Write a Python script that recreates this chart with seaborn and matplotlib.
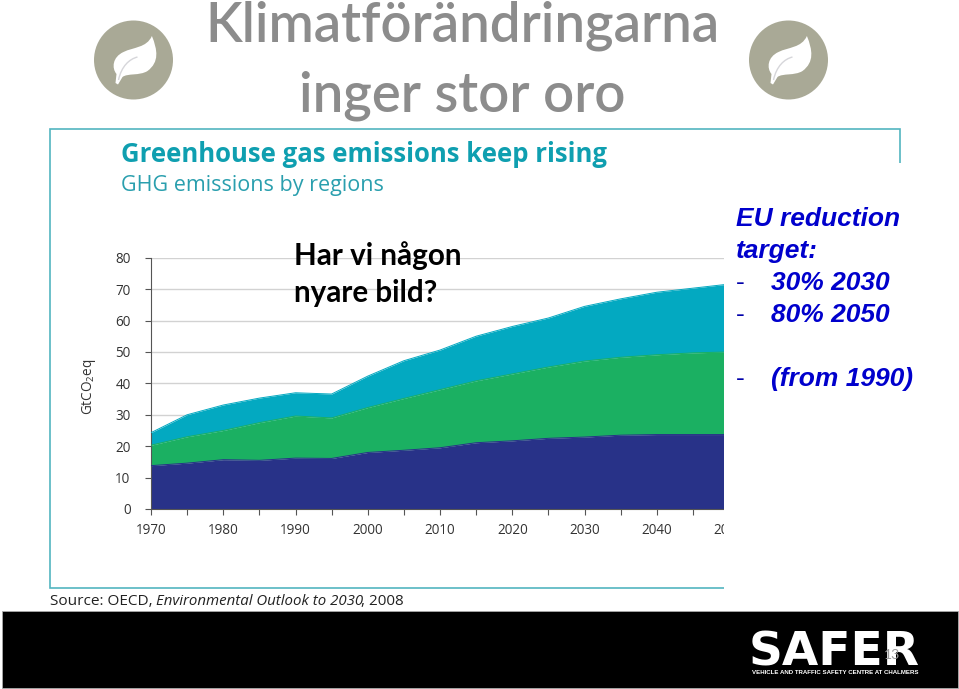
import numpy as np
import pandas as pd
import matplotlib
matplotlib.use("Agg")
import matplotlib.pyplot as plt
from matplotlib.patches import Rectangle, Circle, PathPatch
from matplotlib.path import Path
import seaborn as sns

# Data: top edge of each stacked band (GtCO2eq)
years = [1970, 1975, 1980, 1985, 1990, 1995, 2000, 2005, 2010, 2015,
         2020, 2025, 2030, 2035, 2040, 2045, 2050]
band_low = [13.8, 14.6, 15.7, 15.5, 16.2, 16.1, 18.0, 18.7, 19.5, 21.1,
            21.7, 22.5, 22.9, 23.5, 23.7, 23.7, 23.7]
band_mid = [20.3, 23.0, 25.0, 27.5, 29.6, 29.0, 32.3, 35.2, 38.0, 40.8,
            43.0, 45.2, 47.1, 48.3, 49.1, 49.7, 50.0]
band_top = [24.3, 30.0, 33.1, 35.3, 37.0, 36.6, 42.3, 47.2, 50.6, 55.0,
            58.1, 60.8, 64.5, 66.9, 69.0, 70.3, 71.6]
y_ticks = [0, 10, 20, 30, 40, 50, 60, 70, 80]
x_labels = [1970, 1980, 1990, 2000, 2010, 2020, 2030, 2040, 2050]
x_minor = [1975, 1985, 1995, 2005, 2015, 2025, 2035, 2045]

NAVY, GREEN, TEAL = "#283288", "#1bb062", "#03a9c1"
FRAME = "#53b5c0"
W, H = 959, 689
sns.set_theme(style="white")
plt.rcParams["font.family"] = ["Open Sans", "DejaVu Sans"]
plt.rcParams["mathtext.default"] = "regular"
PX = 0.72

fig = plt.figure(figsize=(W / 100, H / 100), dpi=100, facecolor="white")


def overlay(z):
    a = fig.add_axes([0, 0, 1, 1], zorder=z)
    a.set_xlim(0, W)
    a.set_ylim(H, 0)
    a.axis("off")
    a.patch.set_alpha(0)
    return a


under = overlay(1)
under.add_patch(Rectangle((50, 129), 850, 458.7, fill=False, ec=FRAME, lw=1.2))

# Main chart axes
left, right, top, bottom = 151, 729, 257.7, 509
ax = fig.add_axes([left / W, 1 - bottom / H, (right - left) / W, (bottom - top) / H], zorder=2)
ax.patch.set_alpha(0)
df = pd.DataFrame({"year": years, "low": band_low, "mid": band_mid, "top": band_top})
long = df.melt("year", var_name="band", value_name="value")
ax.fill_between(years, band_mid, band_top, color=TEAL, lw=0, zorder=2.5)
ax.fill_between(years, band_low, band_mid, color=GREEN, lw=0, zorder=2.5)
ax.fill_between(years, 0, band_low, color=NAVY, lw=0, zorder=2.5)
sns.lineplot(data=long, x="year", y="value", hue="band",
             palette={"low": NAVY, "mid": GREEN, "top": TEAL},
             legend=False, lw=0.7, ax=ax, zorder=3)
ax.set_xlim(1970, 2050)
ax.set_ylim(0, 80)
ax.set_xlabel("")
ax.set_ylabel("")
ax.set_xticks(x_labels)
ax.set_xticks(x_minor, minor=True)
ax.set_yticks(y_ticks)
ax.tick_params(axis="both", which="both", direction="out", length=6 * PX, width=0.8,
               color="#555555", labelcolor="#333333", labelsize=13.5 * PX,
               left=True, bottom=True)
ax.tick_params(axis="y", pad=14.5 * PX)
ax.tick_params(axis="x", pad=8 * PX)
ax.grid(True, axis="y", color="#d2d2d2", lw=1.0, zorder=0)
ax.grid(False, axis="x")
ax.set_axisbelow(True)
sns.despine(ax=ax, top=True, right=True)
for s in ("left", "bottom"):
    ax.spines[s].set_color("#555555")
    ax.spines[s].set_linewidth(0.8)

# Everything above the chart
top_layer = overlay(3)
top_layer.add_patch(Rectangle((724.4, 163), 240, 436, fc="white", ec="none"))


def leaf(cx, cy):
    top_layer.add_patch(Circle((cx, cy), 39.5, fc="#a9a996", ec="none"))
    pts = [(18.4, -24), (24, -10), (26, 2), (14, 11), (6, 16), (-6, 13), (-11, 17),
           (-15.5, 24.5), (-18, 23), (-17, 14),
           (-22, 8), (-21, -3), (-10, -8), (0, -13), (13, -12), (18.4, -24)]
    verts = [(cx + a, cy + b) for a, b in pts]
    codes = ([Path.MOVETO] + [Path.CURVE4] * 6 + [Path.LINETO] * 3 + [Path.CURVE4] * 6)
    top_layer.add_patch(PathPatch(Path(verts, codes), fc="white", ec="none"))
    vein = Path([(cx - 15, cy + 20), (cx - 12, cy + 6), (cx - 4, cy - 1), (cx + 4, cy - 3)],
                [Path.MOVETO, Path.CURVE4, Path.CURVE4, Path.CURVE4])
    top_layer.add_patch(PathPatch(vein, fc="none", ec="#d6d6da", lw=1.0))


leaf(133.5, 60)
leaf(788.5, 60)


def px_text(x, y, s, size, color="black", **kw):
    kw.setdefault("va", "center")
    kw.setdefault("ha", "left")
    return top_layer.text(x, y, s, fontsize=size * PX, color=color, **kw)


GREY = "#8c8c8c"
px_text(462, 26, "Klimatförändringarna", 54.5, GREY, ha="center", family="Lato", weight=600)
px_text(462, 96, "inger stor oro", 54.5, GREY, ha="center", family="Lato", weight=600)
px_text(121, 155, "Greenhouse gas emissions keep rising", 25.8, "#0f9fb0", weight="bold")
px_text(121, 186, "GHG emissions by regions", 21.5, "#2a9fae")
px_text(294, 256, "Har vi någon", 29.6, "black", family="Lato", weight="bold")
px_text(294, 293, "nyare bild?", 29.6, "black", family="Lato", weight="bold")
px_text(89, 387, "GtCO$_2$eq", 13.5, "#333333", rotation=90, ha="center")

BLUE = "#0000cc"
eu = dict(family="Liberation Sans", style="italic", weight="bold")
px_text(736, 219, "EU reduction", 26.4, BLUE, **eu)
px_text(736, 251, "target:", 26.4, BLUE, **eu)
for yy, s in [(283, "30% 2030"), (315, "80% 2050"), (379, "(from 1990)")]:
    px_text(736, yy, "-", 26.4, "#0000aa", family="Liberation Sans")
    px_text(771, yy, s, 26.4, BLUE, **eu)

px_text(50, 601.5, "Source: OECD,", 15.4, "#222222")
px_text(155.7, 601.5, "Environmental Outlook to 2030", 15, "#222222", style="italic")
px_text(361, 601.5, ", 2008", 15.2, "#222222")

# Black footer band
top_layer.add_patch(Rectangle((2, 611), 956, 77, fc="black", ec="#aaaaaa", lw=0.6))
px_text(834, 665, "SAFER", 47, "white", ha="center", va="baseline",
        family="DejaVu Sans", weight="bold")
px_text(835.5, 672, "VEHICLE AND TRAFFIC SAFETY CENTRE AT CHALMERS", 6.1, "white",
        ha="center", family="Liberation Sans", weight="bold")
px_text(892, 655, "13", 14, "#999999", ha="center", family="Lato")

fig.savefig("out.png", dpi=100)
